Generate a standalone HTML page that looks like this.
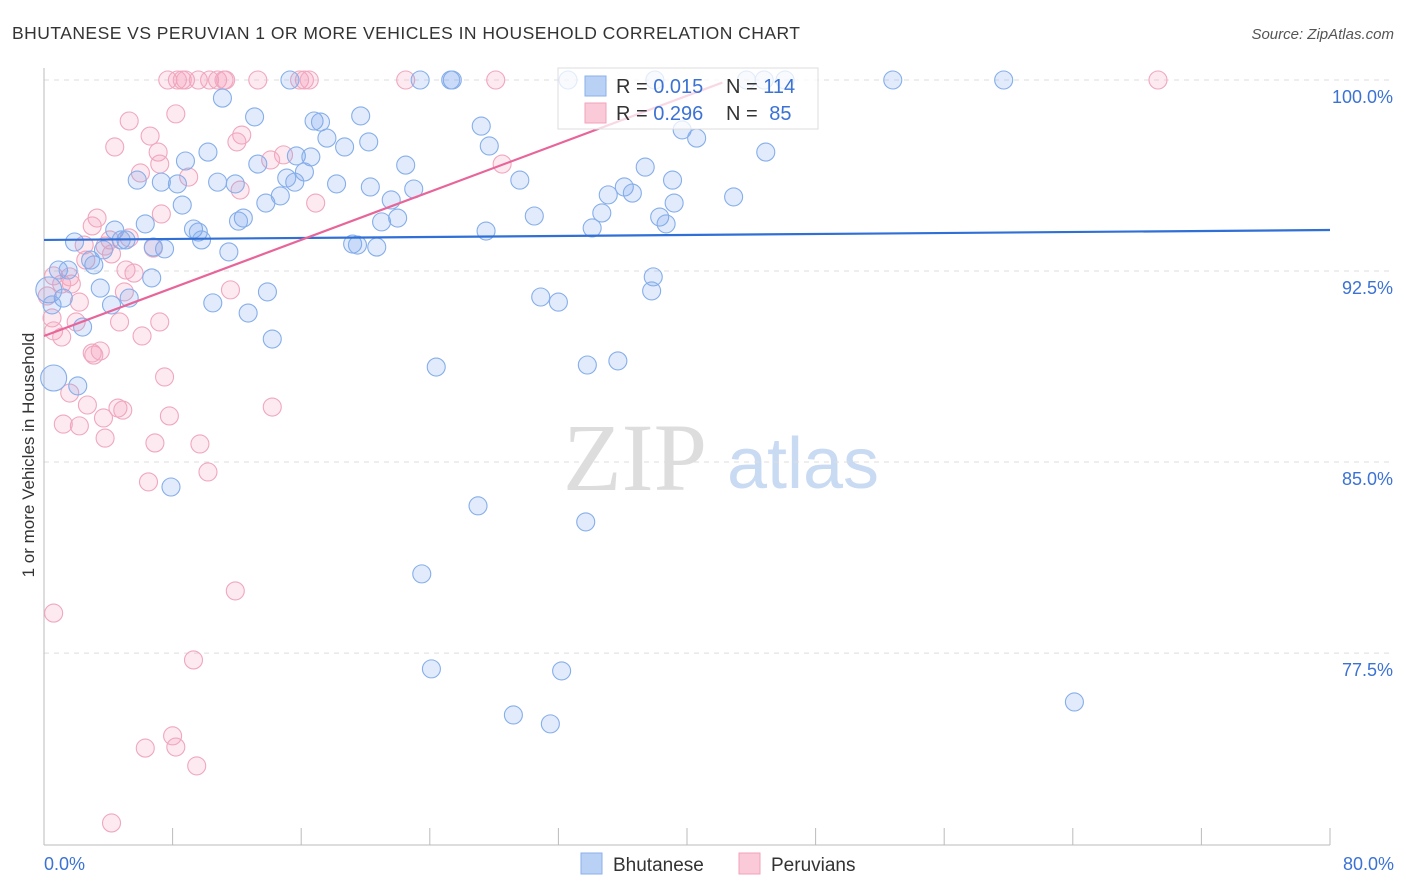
<!DOCTYPE html>
<html><head><meta charset="utf-8">
<style>
body{margin:0;background:#fff;font-family:"Liberation Sans",sans-serif;}
svg{display:block}
</style></head>
<body>
<svg id="chart" width="1406" height="892" xmlns="http://www.w3.org/2000/svg">
<text x="12" y="39" font-size="17.5" fill="#333" textLength="788">BHUTANESE VS PERUVIAN 1 OR MORE VEHICLES IN HOUSEHOLD CORRELATION CHART</text>
<text x="1394" y="39" font-size="15" fill="#555" font-style="italic" text-anchor="end">Source: ZipAtlas.com</text>
<text transform="translate(34,455) rotate(-90)" font-size="17" fill="#333" text-anchor="middle">1 or more Vehicles in Household</text>
<g>
<text x="635" y="490" font-size="96" font-family="Liberation Serif,serif" fill="#ddd" text-anchor="middle">ZIP</text>
<text x="803" y="488" font-size="72" fill="#c9daf3" text-anchor="middle">atlas</text>
</g>
<g id="grid"></g><g id="axes"></g><g id="pts"></g><g id="lines"></g>
<g>
<rect x="558" y="68" width="260" height="61" fill="rgba(255,255,255,0.75)" stroke="#ddd"/>
<rect x="585" y="76" width="21" height="20" fill="#b9d1f5" stroke="#8ab0ea"/>
<rect x="585" y="103" width="21" height="20" fill="#fbcad8" stroke="#f1a3bb"/>
<text x="616" y="93" font-size="20" fill="#333">R = <tspan fill="#3b72d4">0.015</tspan></text>
<text x="726" y="93" font-size="20" fill="#333">N = <tspan fill="#3b72d4">114</tspan></text>
<text x="616" y="120" font-size="20" fill="#333">R = <tspan fill="#3b72d4">0.296</tspan></text>
<text x="726" y="120" font-size="20" fill="#333">N = <tspan fill="#3b72d4" dx="6">85</tspan></text>
</g>
<g>
<rect x="581" y="853" width="21" height="21" fill="#b9d1f5" stroke="#8ab0ea"/>
<text x="613" y="871" font-size="19" fill="#333">Bhutanese</text>
<rect x="739" y="853" width="21" height="21" fill="#fbcad8" stroke="#f1a3bb"/>
<text x="771" y="871" font-size="19" fill="#333">Peruvians</text>
</g>
</svg>
<script>
const yTicks=[100,92.5,85,77.5];
const yTickLabels=["100.0%","92.5%","85.0%","77.5%"];
const xTicks=[0,8,16,24,32,40,48,56,64,72,80];
const blueX=[32.6,15.3,23.4,25.4,25.3,43.7,44.8,46.1,52.8,59.7,38.0,11.1,13.1,16.8,19.7,17.2,27.2,8.8,10.2,18.7,20.2,15.7,16.6,17.6,27.7,22.5,13.3,5.8,7.3,8.3,10.8,11.9,15.6,15.1,16.2,18.2,20.3,23.0,29.6,37.4,39.1,39.7,40.6,44.9,35.1,36.1,36.6,34.7,34.1,38.3,39.2,38.7,42.9,30.5,21.6,22.0,21.0,13.8,14.7,12.4,12.1,8.6,9.3,9.6,9.8,6.3,4.4,5.1,4.8,3.7,7.5,6.8,11.5,19.2,19.5,20.7,27.5,1.9,0.9,1.5,3.1,2.9,1.2,0.3,0.5,6.7,3.5,4.2,5.3,10.5,13.9,12.7,14.2,2.4,0.6,2.1,24.4,33.8,35.7,37.9,37.8,30.9,32.0,7.9,27.0,33.7,23.5,24.1,32.2,29.2,31.5,64.1];
const blueY=[100,100,100,100,100,100,100,100,100,100,100,99.29,98.55,98.39,98.59,98.35,98.19,96.82,97.17,97.37,97.57,97.02,96.98,97.72,97.41,96.66,96.70,96.07,95.99,95.92,95.99,95.92,95.99,96.15,96.39,95.92,95.80,95.72,96.07,96.58,96.07,98.04,97.72,97.17,95.49,95.80,95.56,94.78,94.19,94.62,95.17,94.35,95.41,94.66,95.29,94.58,94.43,95.17,95.45,94.58,94.46,95.09,94.15,94.03,93.72,94.35,94.11,93.72,93.72,93.33,93.37,93.44,93.25,93.56,93.52,93.44,94.07,93.64,92.54,92.54,92.74,92.93,91.44,91.76,91.17,92.23,91.83,91.17,91.44,91.25,91.68,90.85,89.83,90.30,88.30,87.99,88.73,88.81,88.97,92.27,91.72,91.48,91.28,84.02,83.28,82.65,80.61,76.88,76.80,75.07,74.72,75.58];
const pinkX=[7.7,8.3,8.6,8.8,9.6,10.3,10.8,11.2,11.3,13.3,15.9,16.2,16.5,22.5,28.1,69.3,8.2,5.3,6.6,4.4,7.1,7.2,12.3,12.0,14.1,14.9,9.0,6.0,7.3,16.9,28.5,12.2,3.3,3.0,4.1,5.3,4.2,3.8,2.5,5.1,5.6,6.8,1.6,1.7,2.6,1.1,0.6,0.2,5.0,2.2,11.6,0.5,0.6,1.1,2.0,4.7,7.2,6.1,3.1,3.0,7.5,1.6,2.7,4.6,4.9,14.2,1.2,2.2,3.7,3.8,7.8,9.7,6.9,10.2,6.5,11.9,0.6,9.3,8.0,6.3,8.2,9.5,4.2,3.5];
const pinkY=[100,100,100,100,100,100,100,100,100,100,100,100,100,100,100,100,98.67,98.39,97.80,97.37,97.17,96.70,97.84,97.57,96.86,97.06,96.19,96.35,94.74,95.17,96.70,95.68,94.58,94.27,93.72,93.80,93.17,93.48,93.52,92.54,92.42,93.40,92.27,91.99,92.93,91.99,92.31,91.52,91.68,91.28,91.76,90.66,90.15,89.91,90.50,90.50,90.50,89.95,89.20,89.28,88.34,87.71,87.24,87.12,87.04,87.16,86.49,86.42,86.73,85.94,86.81,85.71,85.75,84.61,84.22,79.94,79.07,77.23,74.25,73.77,73.81,73.07,70.83,89.36];
const blueTrend=[[0,93.72],[80,94.11]];
const pinkTrend=[[0,89.95],[42.2,99.9]];
const NS="http://www.w3.org/2000/svg";
const X0=44,X1=1330,Y100=80,PXPER=25.47;
function sx(v){return X0+(v/80)*(X1-X0);}
function sy(v){return Y100+(100-v)*PXPER;}
function mk(tag,attrs,parent){const e=document.createElementNS(NS,tag);for(const k in attrs)e.setAttribute(k,attrs[k]);document.getElementById(parent).appendChild(e);return e;}
yTicks.forEach((t,i)=>{
  const l=mk('line',{x1:X0,x2:1394,y1:sy(t),y2:sy(t),stroke:'#ddd','stroke-dasharray':'5,5'},'grid');
  
  
  const tx=mk('text',{x:1393,y:sy(t)+23,'font-size':18,fill:'#3b72d4','text-anchor':'end'},'grid');
  tx.textContent=yTickLabels[i];
  
  
});
const ax=mk('line',{x1:X0,x2:X0,y1:68,y2:845,stroke:'#bbb'},'axes');


const bx=mk('line',{x1:X0,x2:X1,y1:845,y2:845,stroke:'#bbb'},'axes');


xTicks.forEach(t=>{
  const l=mk('line',{x1:sx(t),x2:sx(t),y1:828,y2:845,stroke:'#bbb'},'axes');
  
  
});
const xl0=mk('text',{x:44,y:870,'font-size':18,fill:'#3b72d4'},'axes');xl0.textContent='0.0%';


const xl1=mk('text',{x:1394,y:870,'font-size':18,fill:'#3b72d4','text-anchor':'end'},'axes');xl1.textContent='80.0%';


function pts(xs,ys,fill,stroke,name,bigOk){
  xs.forEach((x,i)=>{
    const big=bigOk && x<0.7 && ((ys[i]<88.5&&ys[i]>88)||(ys[i]>91.6&&ys[i]<91.9)) ? 13 : 9;
    const c=mk('circle',{cx:sx(x),cy:sy(ys[i]),r:big,fill:fill,stroke:stroke,'stroke-width':1.1},'pts');
    
    
  });
}
pts(pinkX,pinkY,'rgba(245,160,185,0.22)','#f0a7be','peruvian-point',false);
pts(blueX,blueY,'rgba(120,165,235,0.22)','#86aeea','bhutanese-point',true);
const bl=mk('line',{x1:sx(blueTrend[0][0]),y1:sy(blueTrend[0][1]),x2:sx(blueTrend[1][0]),y2:sy(blueTrend[1][1]),stroke:'#2f6fd6','stroke-width':2.2},'lines');


const pl=mk('line',{x1:sx(pinkTrend[0][0]),y1:sy(pinkTrend[0][1]),x2:sx(pinkTrend[1][0]),y2:sy(pinkTrend[1][1]),stroke:'#e8659a','stroke-width':2.2},'lines');


</script>
</body></html>
